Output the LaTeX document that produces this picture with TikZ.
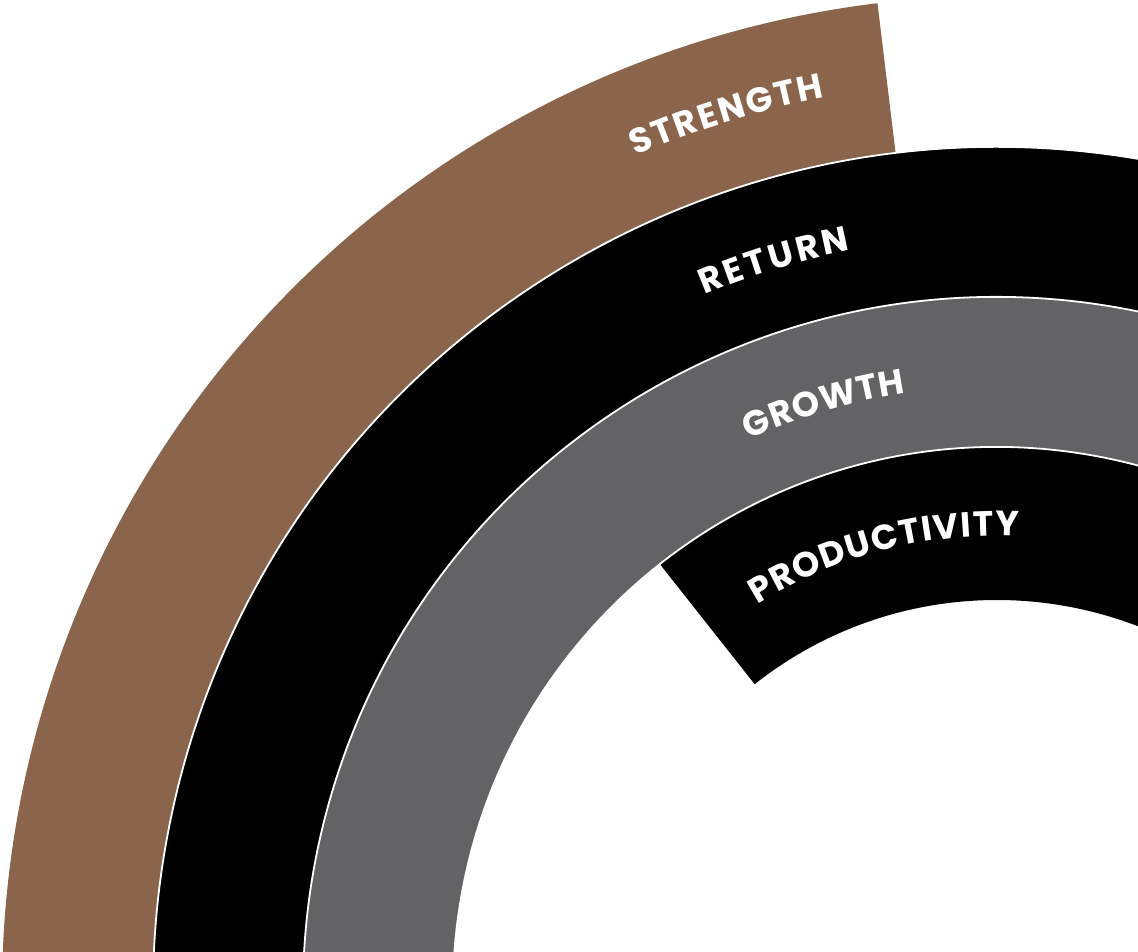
\documentclass[tikz,border=0pt]{standalone}
\usepackage{fontspec}
\newfontfamily\ringfont{Poppins}
\usetikzlibrary{calc,decorations.text}
\definecolor{ringbrown}{HTML}{8B654B}
\definecolor{ringgrey}{HTML}{636365}

% annular sector: style, outer radius, inner radius, start angle, end angle
\newcommand\ringsector[5]{%
  \fill[#1] ($(C)+(#4:#2)$) arc[start angle=#4,end angle=#5,radius=#2]
    -- ($(C)+(#5:#3)$) arc[start angle=#5,end angle=#4,radius=#3] -- cycle;}
% thin white seam between two bands
\newcommand\ringseam[3]{%
  \draw[seam] ($(C)+(#2:#1)$) arc[start angle=#2,end angle=#3,radius=#1];}
% curved label: text, baseline radius, start angle, end angle
\newcommand\ringlabel[4]{%
  \path[ringtext={#1}] ($(C)+(#3:#2)$) arc[start angle=#3,end angle=#4,radius=#2];}

\begin{document}
\begin{tikzpicture}[x=1pt,y=1pt,
  seam/.style={draw=white,line width=1.8pt},
  ringtext/.style={decorate,decoration={text along path,
      text={|\ringfont\bfseries\fontsize{35}{40}\selectfont|#1},
      text align=fit to path,text color=white}}]
\useasboundingbox (0,0) rectangle (1138,951);
\clip (0,0) rectangle (1138,951);
\coordinate (C) at (997,-40);

% bands, outermost first
\ringsector{ringbrown}{995}{844}{96.9}{200}
\ringsector{black}{844}{694}{-10}{200}
\ringsector{ringgrey}{694}{544}{-10}{200}
\ringsector{black}{544}{391}{-10}{128.3}

% seams
\ringseam{844}{-10}{200}
\ringseam{694}{-10}{200}
\ringseam{544}{-10}{200}

% labels
\ringlabel{STRENGTH}{910}{113.4}{100.9}
\ringlabel{RETURN}{755}{112.8}{101.2}
\ringlabel{GROWTH}{605}{114.2}{98.7}
\ringlabel{PRODUCTIVITY}{455}{121.8}{87.3}
\end{tikzpicture}
\end{document}
